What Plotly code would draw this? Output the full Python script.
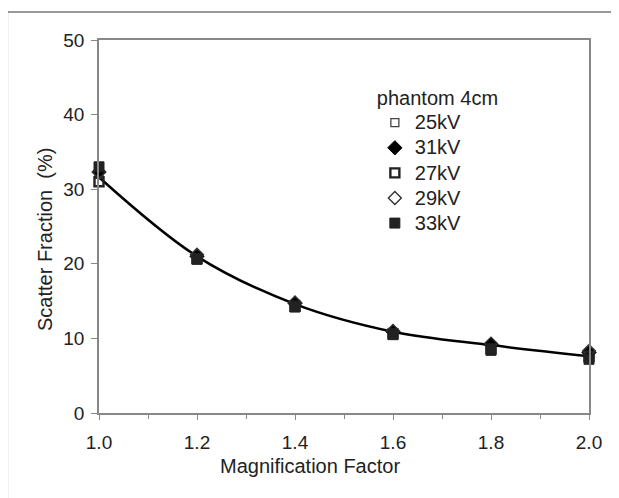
import plotly.graph_objects as go

magnification = [1.0, 1.2, 1.4, 1.6, 1.8, 2.0]
sf_25kv = [32.0, 21.0, 14.6, 10.8, 9.0, 8.0]
sf_31kv = [32.3, 21.0, 14.7, 10.9, 9.2, 8.1]
sf_27kv = [31.0, 20.7, 14.3, 10.6, 8.6, 7.6]
sf_29kv = [32.3, 21.2, 14.8, 11.0, 9.3, 8.3]
sf_33kv = [33.0, 20.6, 14.2, 10.5, 8.4, 7.2]
fit_curve = [31.6, 21.0, 14.6, 10.9, 9.1, 7.6]

x_ticks = [1.0, 1.2, 1.4, 1.6, 1.8, 2.0]
y_ticks = [0, 10, 20, 30, 40, 50]

FONT = "Liberation Sans, Arial, Helvetica, sans-serif"
TXT = "#222222"
AX = "#888888"

fig = go.Figure()
fig.add_trace(go.Scatter(x=magnification, y=fit_curve, mode="lines",
                         line=dict(color="black", width=2.5, shape="spline", smoothing=1.0),
                         showlegend=False, hoverinfo="skip"))

series = [
    ("25kV", sf_25kv, "square-open", 8, 1.3, "#444"),
    ("31kV", sf_31kv, "diamond", 11, 1, "black"),
    ("27kV", sf_27kv, "square-open", 9, 2.4, "#222"),
    ("29kV", sf_29kv, "diamond-open", 10, 1.4, "#333"),
    ("33kV", sf_33kv, "square", 10, 1, "#222"),
]
for name, ys, sym, sz, lw, col in series:
    fig.add_trace(go.Scatter(x=magnification, y=ys, mode="markers",
                             name=f"<span style='font-size:20px'>{name}</span>",
                             cliponaxis=False,
                             marker=dict(symbol=sym, size=sz, color=col,
                                         line=dict(color=col, width=lw))))

fig.update_layout(
    width=619, height=498,
    margin=dict(l=91, r=38, t=32, b=93),
    paper_bgcolor="white", plot_bgcolor="white",
    font=dict(family=FONT, size=19, color=TXT),
    legend=dict(title=dict(text="<span style='font-size:20px'>phantom 4cm</span>",
                           font=dict(size=24, color=TXT)),
                x=0.563, y=0.909, xanchor="left", yanchor="top",
                bgcolor="rgba(0,0,0,0)", tracegroupgap=0,
                font=dict(size=17, color=TXT)),
    xaxis=dict(range=[1.0, 2.0], tickvals=x_ticks, ticktext=[f"{v:.1f}" for v in x_ticks],
               showgrid=False, zeroline=False, showline=True, linecolor=AX, linewidth=1.5,
               mirror=True, ticks="outside", ticklen=5, tickcolor=AX, ticklabelstandoff=6,
               minor=dict(dtick=0.1, ticks="outside", ticklen=4, tickcolor=AX),
               tickfont=dict(size=19, color=TXT)),
    yaxis=dict(range=[0, 50], tickvals=y_ticks,
               showgrid=False, zeroline=False, showline=True, linecolor=AX, linewidth=1.5,
               mirror=True, ticks="outside", ticklen=6, tickcolor=AX, ticklabelstandoff=3,
               tickfont=dict(size=19, color=TXT)),
    annotations=[
        dict(text="Magnification Factor", xref="paper", yref="paper", x=0.43, y=-0.142,
             xanchor="center", yanchor="middle", showarrow=False,
             font=dict(size=20, color=TXT)),
        dict(text="Scatter Fraction\u00a0\u00a0(%)", xref="paper", yref="paper", x=-0.110, y=0.464,
             xanchor="center", yanchor="middle", showarrow=False, textangle=-90,
             font=dict(size=20, color=TXT)),
    ],
    shapes=[
        dict(type="line", xref="paper", yref="paper", x0=-0.187, x1=1.2, y0=1.075, y1=1.075,
             line=dict(color="#777", width=1.5)),
        dict(type="line", xref="paper", yref="paper", x0=-0.187, x1=-0.187, y0=1.075, y1=-0.3,
             line=dict(color="#777", width=1.5)),
    ],
)
fig.write_html("out.html")
